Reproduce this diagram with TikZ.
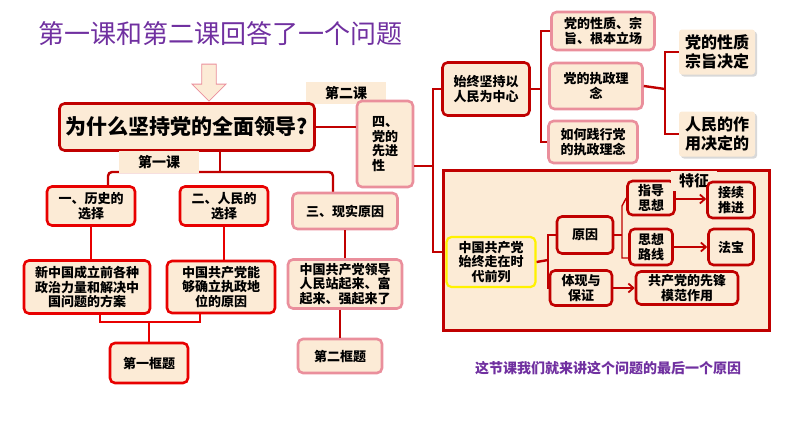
\documentclass[tikz,border=0pt]{standalone}
\usepackage{fontspec}
\setmainfont{Noto Sans CJK SC}
\usetikzlibrary{shapes.arrows,arrows.meta,shadows}
\definecolor{dred}{HTML}{C00000}
\definecolor{rred}{HTML}{E80000}
\definecolor{pnk}{HTML}{EA8F9C}
\definecolor{bg}{HTML}{FCEBD6}
\definecolor{pur}{HTML}{7030A0}
\tikzset{
 bx/.style={draw=#1, line width=2.6pt, rounded corners=5pt, fill=bg, align=center, inner sep=1pt, font=\fontsize{13}{14.5}\selectfont\bfseries},
 bx/.default=rred,
 lab/.style={fill=bg, inner sep=2pt, minimum width=80, minimum height=22, font=\fontsize{14}{16}\selectfont\bfseries},
 ln/.style={draw=#1, line width=2.4pt},
 ln/.default=dred,
 shd/.style={fill=bg, rounded corners=3pt, align=center, drop shadow={shadow xshift=2pt,shadow yshift=-2pt,fill=gray!60}, font=\fontsize{16}{19}\selectfont\bfseries},
 arr/.style={draw=dred, line width=1.8pt, -{Straight Barb[length=5pt,width=9pt]}}
}
\begin{document}
\begin{tikzpicture}[x=1pt,y=-1pt]
\useasboundingbox (0,0) rectangle (794,447);
\node[font=\fontsize{26}{30}\selectfont, text=pur, anchor=west, inner sep=0pt] (title) at (38,34) {第一课和第二课回答了一个问题};
\node[single arrow, draw=pnk, fill=bg, shape border rotate=270, minimum width=34pt, minimum height=37pt, single arrow head extend=5pt, line width=0.8pt] (darr) at (209,79) {};
% left part
\node[lab] (l2) at (346,93) {第二课};
\node[bx=dred, minimum width=255, minimum height=47, font=\fontsize{21}{24}\selectfont\bfseries] (main) at (187,127) {为什么坚持党的全面领导?};
\node[bx=pnk, minimum width=56, minimum height=86, align=left] (four) at (385,144) {四、\\党的\\先进\\性};
\draw[ln] (main.east) -- (four.west |- main.east);
\coordinate (br) at (220,172);
\draw[ln] (main.south -| br) -- (br);
\draw[ln, rounded corners=4pt] (108,190) -- (108,172) -- (333,172) -- (333,194);
\node[lab] (l1) at (159,162) {第一课};
\node[bx, minimum width=88, minimum height=39] (b1) at (91,206) {一、历史的\\选择};
\node[bx, minimum width=88, minimum height=39] (b2) at (224,206) {二、人民的\\选择};
\node[bx=pnk, minimum width=105, minimum height=36] (b3) at (345,211) {三、现实原因};
\node[bx, minimum width=126, minimum height=53] (c1) at (87,287) {新中国成立前各种\\政治力量和解决中\\国问题的方案};
\node[bx, minimum width=108, minimum height=52] (c2) at (221,287) {中国共产党能\\够确立执政地\\位的原因};
\node[bx=pnk, minimum width=114, minimum height=49] (c3) at (345,284) {中国共产党领导\\人民站起来、富\\起来、强起来了};
\draw[ln=rred] (b1.south) -- (b1.south |- c1.north);
\draw[ln=rred] (b2.south) -- (b2.south |- c2.north);
\draw[ln=dred] (b3.south) -- (b3.south |- c3.north);
\node[bx, minimum width=78, minimum height=40] (d1) at (149,363) {第一框题};
\node[bx=pnk, minimum width=84, minimum height=34] (d2) at (340,356) {第二框题};
\draw[ln=rred] (100,314) -- (100,322) -- (200,322) -- (200,314);
\draw[ln=rred] (d1.north |- 0,322) -- (d1.north);
\draw[ln=dred] (c3.south -| d2.north) -- (d2.north);
% right upper
\node[bx=dred, minimum width=87, minimum height=53] (s) at (486,89) {始终坚持以\\人民为中心};
\node[bx=pnk, minimum width=103, minimum height=38] (p1) at (603,31) {党的性质、宗\\旨、根本立场};
\node[bx=pnk, minimum width=93, minimum height=46] (p2) at (596,86) {党的执政理\\念};
\node[bx=pnk, minimum width=89, minimum height=42] (p3) at (593,142) {如何践行党\\的执政理念};
\draw[ln] (s.east) -- (541,89);
\draw[ln] (p1.west) -- (541,31) -- (541,142) -- (p3.west);
\node[shd, minimum width=76, minimum height=45] (q1) at (717,52) {党的性质\\宗旨决定};
\node[shd, minimum width=76, minimum height=45] (q2) at (717,134) {人民的作\\用决定的};
\draw[ln] (p2.east) -- (665,89);
\draw[ln] (q1.west) -- (665,52) -- (665,134) -- (q2.west);
% big rect
\draw[draw=dred, line width=3pt, fill=bg] (443,170) rectangle (769,330);
\node[bx=yellow, line width=2.2pt, minimum width=89, minimum height=50] (z) at (491,262) {中国共产党\\始终走在时\\代前列};
\node[bx=dred, minimum width=56, minimum height=37] (y1) at (585,235) {原因};
\node[bx=dred, minimum width=62, minimum height=35] (y2) at (581,288) {体现与\\保证};
\node[bx=dred, minimum width=47, minimum height=34] (x1) at (651,198) {指导\\思想};
\node[bx=dred, minimum width=43, minimum height=36] (x2) at (651,247) {思想\\路线};
\node[lab, minimum width=46, minimum height=20, font=\fontsize{15}{17}\selectfont\bfseries] (tz) at (694,181) {特征};
\node[bx=dred, minimum width=47, minimum height=36] (w1) at (731,200) {接续\\推进};
\node[bx=dred, minimum width=45, minimum height=36] (w2) at (731,247) {法宝};
\node[bx=dred, minimum width=102, minimum height=33] (w3) at (687,288) {共产党的先锋\\模范作用};
\draw[ln] (z.east) -- (548,260);
\draw[ln] (y1.west) -- (548,235) -- (548,288) -- (y2.west);
\draw[ln, line width=1.4pt] (y1.east) -- (622,235);
\draw[ln, line width=1.4pt] (x1.west) -- (622,206) -- (622,258) -- (x2.west |- 0,258);
\draw[arr] (x1.east |- 0,199) -- (w1.west |- 0,199);
\draw[arr] (x2.east) -- (w2.west);
\draw[arr] (y2.east) -- (w3.west);
% connection left
\draw[ln] (four.east |- 0,166) -- (433,166);
\draw[ln] (s.west) -- (433,89) -- (433,252) -- (z.west |- 0,252);
\node[text=pur, font=\fontsize{14}{16}\selectfont\bfseries] (note) at (608,368) {这节课我们就来讲这个问题的最后一个原因};
\end{tikzpicture}
\end{document}
